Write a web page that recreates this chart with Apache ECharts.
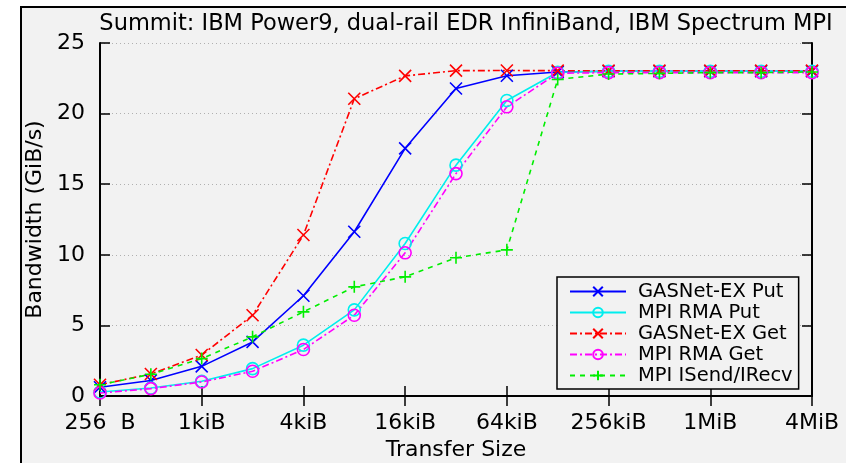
<!DOCTYPE html>
<html>
<head>
<meta charset="utf-8">
<script src="https://cdn.jsdelivr.net/npm/echarts@6/dist/echarts.min.js"></script>
<style>
  html, body { margin: 0; padding: 0; background: #fff; }
  #chart { width: 846px; height: 463px; }
</style>
</head>
<body>
<div id="chart"></div>
<script>
// transfer sizes (x categories), labels shown every other one
const sizes = ['256  B', '512 B', '1kiB', '2kiB', '4kiB', '8kiB', '16kiB', '32kiB',
  '64kiB', '128kiB', '256kiB', '512kiB', '1MiB', '2MiB', '4MiB']

// bandwidth in GiB/s
const gasnetPut = [0.62, 1.1, 2.1, 3.83, 7.1, 11.63, 17.54, 21.78, 22.68, 22.95, 23.0, 23.0, 23.0, 23.0, 23.0]
const mpiRmaPut = [0.28, 0.57, 1.04, 1.94, 3.6, 6.1, 10.8, 16.35, 20.93, 22.93, 23.0, 23.0, 23.0, 23.0, 23.0]
const gasnetGet = [0.8, 1.56, 2.9, 5.72, 11.4, 21.05, 22.67, 23.04, 23.05, 23.04, 23.04, 23.04, 23.04, 23.04, 23.04]
const mpiRmaGet = [0.21, 0.52, 0.99, 1.75, 3.29, 5.72, 10.14, 15.75, 20.48, 22.86, 22.9, 22.9, 22.9, 22.9, 22.9]
const mpiISend = [0.8, 1.54, 2.65, 4.19, 5.96, 7.73, 8.44, 9.79, 10.35, 22.42, 22.8, 22.85, 22.9, 22.9, 22.95]

const FONT = 'DejaVu Sans'
const X_SYM = 'path://M0,0L10,10M0,10L10,0'
const PLUS_SYM = 'path://M5,0L5,10M0,5L10,5'

const mkSeries = (name, data, color, dash, symbol, size) => ({
  name: name,
  type: 'line',
  data: data,
  symbol: symbol,
  symbolSize: size,
  lineStyle: { color: color, width: 1.6, type: dash },
  itemStyle: { color: 'transparent', borderColor: color, borderWidth: 1.6 },
  emphasis: { disabled: true }
})

const chart = echarts.init(document.getElementById('chart'))
chart.setOption({
  animation: false,
  backgroundColor: '#fff',
  textStyle: { fontFamily: FONT },
  graphic: [
    {
      type: 'rect', z: -10, silent: true,
      shape: { x: 21, y: 7, width: 900, height: 500 },
      style: { fill: '#f2f2f2', stroke: '#000', lineWidth: 2 }
    }
  ],
  title: {
    text: 'Summit: IBM Power9, dual-rail EDR InfiniBand, IBM Spectrum MPI',
    left: 461, top: 8, textAlign: 'center',
    textStyle: { fontFamily: FONT, fontSize: 22.5, fontWeight: 'normal', color: '#000' }
  },
  grid: { left: 100, right: 34, top: 43, bottom: 67, outerBoundsMode: 'none', containLabel: false },
  legend: {
    orient: 'vertical',
    left: 557, top: 277,
    backgroundColor: '#f2f2f2',
    borderColor: '#000', borderWidth: 1.5, borderRadius: 0,
    padding: [4, 6, 3, 12],
    itemWidth: 56, itemHeight: 12, itemGap: 0,
    textStyle: { fontFamily: FONT, fontSize: 19.5, color: '#000', lineHeight: 21, padding: [0, 0, 0, 7] },
    data: ['GASNet-EX Put', 'MPI RMA Put', 'GASNet-EX Get', 'MPI RMA Get', 'MPI ISend/IRecv']
  },
  xAxis: [
    {
      type: 'category', data: sizes, boundaryGap: false,
      name: 'Transfer Size', nameLocation: 'middle', nameGap: 40,
      nameTextStyle: { fontFamily: FONT, fontSize: 22, color: '#000' },
      axisLine: { lineStyle: { color: '#000', width: 2 } },
      axisTick: { inside: true, length: 10, interval: 1, lineStyle: { color: '#000', width: 1.5 } },
      axisLabel: { interval: 1, margin: 16, fontFamily: FONT, fontSize: 22, color: '#000' },
      splitLine: { show: false }
    },
    {
      type: 'category', data: sizes, boundaryGap: false, position: 'top',
      axisLine: { lineStyle: { color: '#000', width: 2 } },
      axisTick: { inside: true, length: 10, interval: 1, lineStyle: { color: '#000', width: 1.5 } },
      axisLabel: { show: false },
      splitLine: { show: false }
    }
  ],
  yAxis: [
    {
      type: 'value', min: 0, max: 25, interval: 5,
      name: 'Bandwidth (GiB/s)', nameLocation: 'middle', nameGap: 50,
      nameTextStyle: { fontFamily: FONT, fontSize: 22, color: '#000' },
      axisLine: { show: true, lineStyle: { color: '#000', width: 2 } },
      axisTick: { show: true, inside: true, length: 10, lineStyle: { color: '#000', width: 1.5 } },
      axisLabel: { margin: 15, fontFamily: FONT, fontSize: 22, color: '#000' },
      splitLine: { show: true, lineStyle: { color: '#b0b0b0', width: 1, type: [1, 3] } }
    },
    {
      type: 'value', min: 0, max: 25, interval: 5, position: 'right',
      axisLine: { show: true, lineStyle: { color: '#000', width: 2 } },
      axisTick: { show: true, inside: true, length: 10, lineStyle: { color: '#000', width: 1.5 } },
      axisLabel: { show: false },
      splitLine: { show: false }
    }
  ],
  series: [
    mkSeries('GASNet-EX Put', gasnetPut, '#0000ff', 'solid', X_SYM, 12),
    mkSeries('MPI RMA Put', mpiRmaPut, '#00eeee', 'solid', 'circle', 12),
    mkSeries('GASNet-EX Get', gasnetGet, '#ff0000', [7, 3, 2, 3], X_SYM, 12),
    mkSeries('MPI RMA Get', mpiRmaGet, '#ff00ff', [7, 3, 2, 3], 'circle', 12),
    mkSeries('MPI ISend/IRecv', mpiISend, '#00ee00', [5, 5], PLUS_SYM, 12)
  ]
})
</script>
</body>
</html>
